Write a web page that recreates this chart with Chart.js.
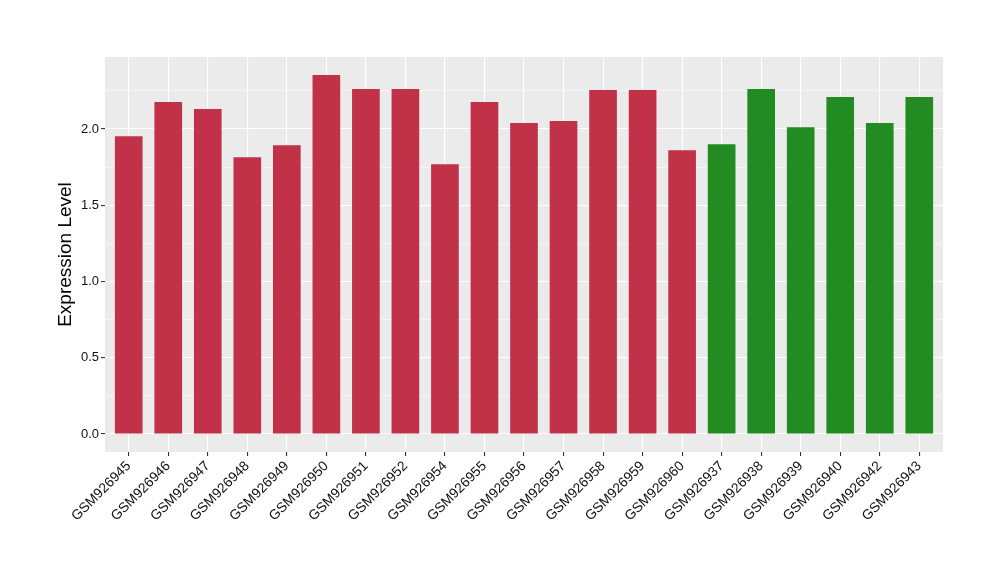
<!DOCTYPE html>
<html>
<head>
<meta charset="utf-8">
<script src="https://cdn.jsdelivr.net/npm/chart.js@4/dist/chart.umd.min.js"></script>
<style>
html,body{margin:0;padding:0;background:#fff;}
canvas{display:block;}
</style>
</head>
<body>
<canvas id="c" width="1000" height="580"></canvas>
<script>
const categories = ["GSM926945","GSM926946","GSM926947","GSM926948","GSM926949","GSM926950","GSM926951","GSM926952","GSM926954","GSM926955","GSM926956","GSM926957","GSM926958","GSM926959","GSM926960","GSM926937","GSM926938","GSM926939","GSM926940","GSM926942","GSM926943"];
const values = [1.953,2.177,2.131,1.815,1.894,2.354,2.262,2.262,1.769,2.177,2.039,2.052,2.256,2.256,1.861,1.900,2.262,2.012,2.210,2.039,2.210];
const groups = ["A","A","A","A","A","A","A","A","A","A","A","A","A","A","A","B","B","B","B","B","B"];
const groupColors = {A:"#C13148", B:"#228B22"};
const yTicks = [0,0.25,0.5,0.75,1.0,1.25,1.5,1.75,2.0,2.25];
const yMajor = [0,0.5,1.0,1.5,2.0];
const yMin = -0.118, yMax = 2.472;
const xMin = -0.6, xMax = categories.length - 1 + 0.6;

const panelBg = {
  id:'panelBg',
  beforeDraw(chart){
    const a = chart.chartArea, ctx = chart.ctx;
    ctx.save();
    ctx.fillStyle = '#EBEBEB';
    ctx.fillRect(a.left, a.top, a.right - a.left, a.bottom - a.top);
    ctx.restore();
  }
};

new Chart(document.getElementById('c'), {
  type:'bar',
  data:{
    datasets:[{
      data: values.map((v,i)=>({x:i, y:v})),
      backgroundColor: groups.map(g=>groupColors[g]),
      borderWidth:0,
      barPercentage:0.7,
      categoryPercentage:1.0
    }]
  },
  plugins:[panelBg],
  options:{
    responsive:false,
    animation:false,
    devicePixelRatio:1,
    layout:{padding:{left:54, right:57, top:57, bottom:0}},
    plugins:{legend:{display:false}, tooltip:{enabled:false}},
    scales:{
      x:{
        type:'linear',
        offset:false,
        min:xMin, max:xMax,
        afterBuildTicks(scale){ scale.ticks = categories.map((_,i)=>({value:i})); },
        afterFit(scale){ scale.height = 128; },
        border:{display:false},
        grid:{offset:false, color:'#FFFFFF', lineWidth:1.1, drawTicks:true, tickLength:4, tickColor:'#333333', tickWidth:1.1},
        ticks:{
          autoSkip:false, minRotation:45, maxRotation:45, padding:2,
          color:'#111111',
          font:{family:'"Liberation Sans", Arial, sans-serif', size:13.8},
          callback:(v)=>categories[v]
        }
      },
      y:{
        min:yMin, max:yMax,
        afterBuildTicks(scale){ scale.ticks = yTicks.map(v=>({value:v})); },
        afterFit(scale){ scale.width = 51; },
        border:{display:false},
        grid:{
          color:'#FFFFFF',
          lineWidth:(c)=> yMajor.includes(c.tick.value) ? 1.1 : 0.5,
          drawTicks:true, tickLength:4,
          tickColor:(c)=> yMajor.includes(c.tick.value) ? '#333333' : 'rgba(0,0,0,0)',
          tickWidth:1.1
        },
        ticks:{
          padding:2,
          color:'#111111',
          font:{family:'"Liberation Sans", Arial, sans-serif', size:13},
          callback:(v)=> yMajor.includes(v) ? v.toFixed(1) : ''
        },
        title:{
          display:true, text:'Expression Level', color:'#000000',
          font:{family:'"Liberation Sans", Arial, sans-serif', size:19},
          padding:{top:0, bottom:0}
        }
      }
    }
  }
});
</script>
</body>
</html>
